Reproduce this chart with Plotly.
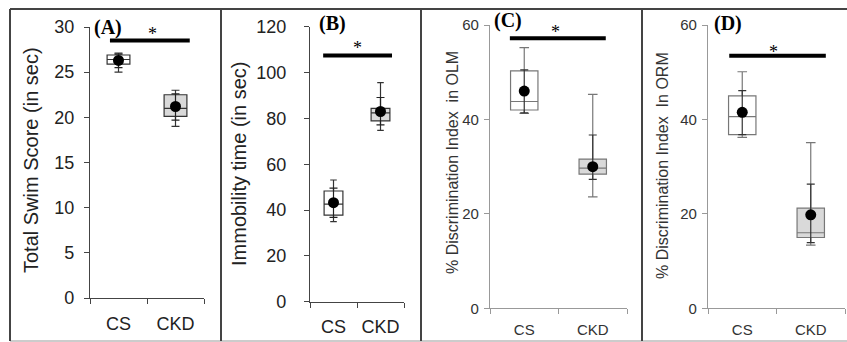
import plotly.graph_objects as go

# ---------------- data ----------------
groups = ["CS", "CKD"]
panel_labels = ["(A)", "(B)", "(C)", "(D)"]
y_titles = ["Total Swim Score (in sec)", "Immobility time (in sec)",
            "% Discrimination Index  in OLM", "% Discrimination Index  In ORM"]
y_ranges = [[0, 30], [0, 120], [0, 60], [0, 60]]
y_dticks = [5, 20, 20, 20]

# box statistics per panel: [CS, CKD]
lower_A = [25.0, 19.0]; q1_A = [25.9, 20.1]; med_A = [26.4, 21.0]; q3_A = [26.9, 22.5]; upper_A = [27.1, 23.0]
lower_B = [34.9, 74.8]; q1_B = [37.8, 78.9]; med_B = [42.6, 82.4]; q3_B = [48.3, 84.4]; upper_B = [53.1, 95.6]
lower_C = [41.3, 23.6]; q1_C = [42.0, 28.4]; med_C = [43.8, 29.7]; q3_C = [50.3, 31.6]; upper_C = [55.2, 45.3]
lower_D = [36.2, 13.4]; q1_D = [36.8, 15.0]; med_D = [40.6, 16.0]; q3_D = [45.0, 21.2]; upper_D = [50.1, 35.1]

# means with error bars
mean_A = [26.3, 21.2]; err_up_A = [0.7, 1.4]; err_dn_A = [0.8, 1.5]
mean_B = [43.2, 83.0]; err_up_B = [6.4, 6.1]; err_dn_B = [6.4, 5.8]
mean_C = [46.0, 30.0]; err_up_C = [4.5, 6.7]; err_dn_C = [4.6, 2.7]
mean_D = [41.5, 19.8]; err_up_D = [4.6, 6.5]; err_dn_D = [4.7, 5.9]

# significance bars (y level) and star positions
sig_y = [28.5, 107.4, 57.2, 53.5]
star_y = [29.7, 112.5, 59.4, 55.1]

stats = [
    (lower_A, q1_A, med_A, q3_A, upper_A, mean_A, err_up_A, err_dn_A),
    (lower_B, q1_B, med_B, q3_B, upper_B, mean_B, err_up_B, err_dn_B),
    (lower_C, q1_C, med_C, q3_C, upper_C, mean_C, err_up_C, err_dn_C),
    (lower_D, q1_D, med_D, q3_D, upper_D, mean_D, err_up_D, err_dn_D),
]

# ---------------- layout geometry (pixels) ----------------
W, H = 847, 342
def px(x): return x / W
def py(y): return (H - y) / H

x_dom = [(90, 204), (310, 404), (490, 627), (708, 845)]
y_dom = [(298, 27), (301.7, 26.7), (308.3, 25), (308.3, 25)]
sig_x = [(-0.15, 1.25), (-0.22, 1.245), (-0.21, 1.19), (-0.19, 1.22)]
star_x = [0.59, 0.5, 0.45, 0.46]
label_pos = [(92, 27), (317, 23), (492, 20), (712, 23)]
title_pos = [(31, 160), (239, 164), (452, 163), (662, 166)]

axis_col = ["#444", "#444", "#999", "#999"]
box_col = ["#333", "#333", "#777", "#777"]
whisk_col = ["#222", "#222", "#333", "#333"]
text_col = ["#222", "#222", "#333", "#333"]
tick_font = [18, 18, 15, 15]
title_font = [20, 20, 16, 16]
tl_standoff = [6, 14, 2, 2]
xtl_standoff = [9, 9, 8, 8]
fills = ["white", "#d9d9d9"]

fig = go.Figure()
xs = list(range(len(groups)))

for p in range(4):
    lo, q1, md, q3, up, mn, eu, ed = stats[p]
    sfx = "" if p == 0 else str(p + 1)
    xa, ya = "x" + sfx, "y" + sfx
    for i in xs:
        fig.add_trace(go.Box(
            x=[i], q1=[q1[i]], median=[md[i]], q3=[q3[i]],
            lowerfence=[lo[i]], upperfence=[up[i]],
            width=0.4, whiskerwidth=0.35, fillcolor=fills[i],
            line=dict(color=box_col[p], width=1.2), boxpoints=False,
            xaxis=xa, yaxis=ya, showlegend=False, hoverinfo="skip"))
    fig.add_trace(go.Scatter(
        x=xs, y=mn, mode="markers",
        marker=dict(color="black", size=11),
        error_y=dict(type="data", array=eu, arrayminus=ed, width=4,
                     thickness=1.2, color=whisk_col[p]),
        xaxis=xa, yaxis=ya, showlegend=False, cliponaxis=False))

    xd = x_dom[p]; yd = y_dom[p]
    fig.update_layout(**{
        "xaxis" + sfx: dict(
            domain=[px(xd[0]), px(xd[1])], anchor=ya, range=[-0.5, 1.5],
            tickvals=xs, ticktext=groups, ticks="", showline=True, automargin=False,
            linecolor=axis_col[p], linewidth=1.3, showgrid=False, zeroline=False,
            ticklabelstandoff=xtl_standoff[p],
            tickfont=dict(family="Liberation Sans, Arial", size=tick_font[p], color=text_col[p]),
            minor=dict(tickmode="array", tickvals=[-0.5, 0.5, 1.5], ticks="outside",
                       ticklen=5, tickcolor=axis_col[p], tickwidth=1.3),
            fixedrange=True),
        "yaxis" + sfx: dict(
            domain=[py(yd[0]), py(yd[1])], anchor=xa, range=y_ranges[p],
            dtick=y_dticks[p], ticks="outside", ticklen=5, tickwidth=1.3,
            tickcolor=axis_col[p], showline=True, linecolor=axis_col[p],
            linewidth=1.3, showgrid=False, zeroline=False, automargin=False,
            ticklabelstandoff=tl_standoff[p],
            tickfont=dict(family="Liberation Sans, Arial", size=tick_font[p], color=text_col[p]),
            fixedrange=True),
    })

    # y axis title
    tx, ty = title_pos[p]
    fig.add_annotation(x=px(tx), y=py(ty), xref="paper", yref="paper", text=y_titles[p],
                       textangle=-90, showarrow=False, xanchor="center", yanchor="middle",
                       font=dict(family="Liberation Sans, Arial", size=title_font[p], color=text_col[p]))

    # significance bar
    fig.add_shape(type="line", xref=xa, yref=ya, x0=sig_x[p][0], x1=sig_x[p][1],
                  y0=sig_y[p], y1=sig_y[p], line=dict(color="black", width=4))
    fig.add_annotation(x=star_x[p], y=star_y[p], xref=xa, yref=ya, text="*",
                       showarrow=False, yshift=-4,
                       font=dict(family="Liberation Serif, Times New Roman", size=18, color="black"))
    lx, ly = label_pos[p]
    fig.add_annotation(x=px(lx), y=py(ly), xref="paper", yref="paper", text="<b>" + panel_labels[p] + "</b>",
                       showarrow=False, xanchor="left", yanchor="middle",
                       font=dict(family="Liberation Serif, Times New Roman", size=20, color="black"))

# panel frame
frame_col = "#444"
fig.add_shape(type="line", xref="paper", yref="paper", x0=px(10), x1=1, y0=py(9), y1=py(9),
              line=dict(color=frame_col, width=2))
fig.add_shape(type="line", xref="paper", yref="paper", x0=px(10), x1=1, y0=py(341), y1=py(341),
              line=dict(color="#bbb", width=1.5))
for xv in [10, 221, 421, 642]:
    fig.add_shape(type="line", xref="paper", yref="paper", x0=px(xv), x1=px(xv), y0=py(341), y1=py(9),
                  line=dict(color=frame_col, width=2))

fig.update_layout(width=W, height=H, margin=dict(l=0, r=0, t=0, b=0, autoexpand=False),
                  paper_bgcolor="white", plot_bgcolor="white", showlegend=False,
                  boxmode="overlay")

fig.write_html("out.html", config={"displayModeBar": False},
               post_script="document.body.style.margin='0px';document.body.style.overflow='hidden';")
